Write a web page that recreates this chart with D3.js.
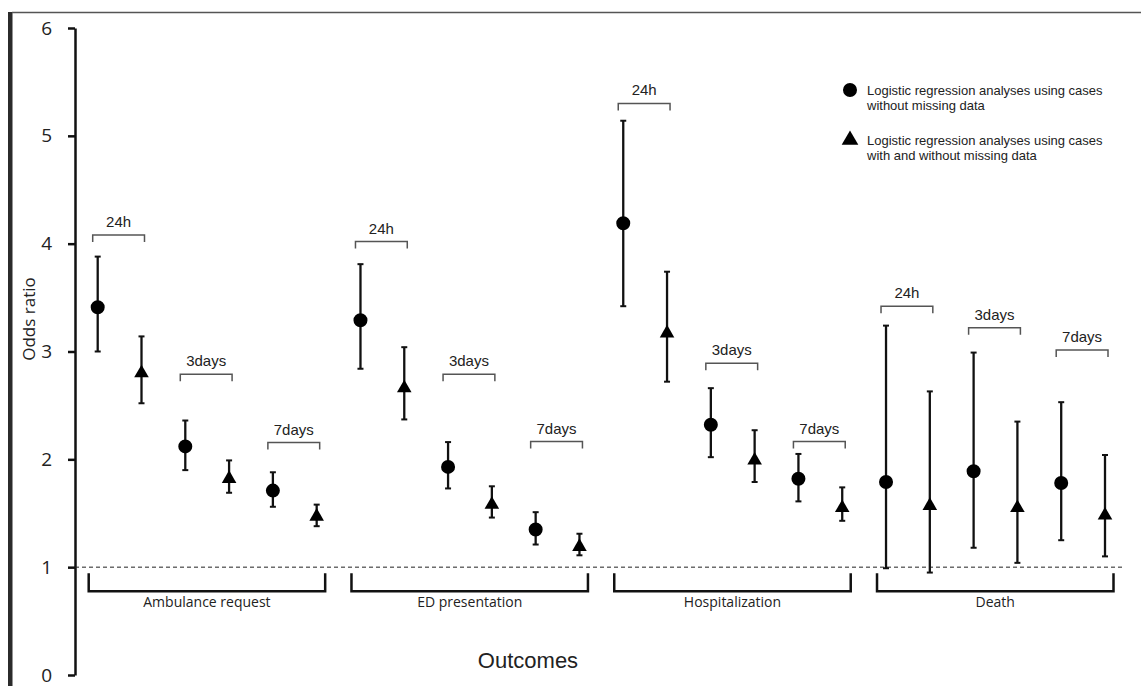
<!DOCTYPE html>
<html>
<head>
<meta charset="utf-8">
<script src="https://cdn.jsdelivr.net/npm/d3@7"></script>
<style>
  body { margin: 0; background: #fff; }
</style>
</head>
<body>
<div id="chart"></div>
<script>
// outcome groups and follow-up windows
const outcomes = ["Ambulance request", "ED presentation", "Hospitalization", "Death"];
const windows = ["24h", "3days", "7days"];

// complete cases (circles): odds ratio and 95% CI, rows = outcome, cols = window
const completeOR = [[3.41, 2.12, 1.71], [3.29, 1.93, 1.35], [4.19, 2.32, 1.82], [1.79, 1.89, 1.78]];
const completeLo = [[3.00, 1.90, 1.56], [2.84, 1.73, 1.21], [3.42, 2.02, 1.61], [0.99, 1.18, 1.25]];
const completeHi = [[3.88, 2.36, 1.88], [3.81, 2.16, 1.51], [5.14, 2.66, 2.05], [3.24, 2.99, 2.53]];

// cases with and without missing data (triangles)
const imputedOR = [[2.80, 1.82, 1.47], [2.66, 1.58, 1.19], [3.17, 1.99, 1.55], [1.57, 1.55, 1.48]];
const imputedLo = [[2.52, 1.69, 1.38], [2.37, 1.46, 1.11], [2.72, 1.79, 1.43], [0.95, 1.04, 1.10]];
const imputedHi = [[3.14, 1.99, 1.58], [3.04, 1.75, 1.31], [3.74, 2.27, 1.74], [2.63, 2.35, 2.04]];

// odds-ratio level where each window bracket sits
const bracketLevel = [[4.08, 2.79, 2.155], [4.02, 2.79, 2.165], [5.30, 2.89, 2.165], [3.42, 3.22, 3.015]];

const yTicks = [0, 1, 2, 3, 4, 5, 6];
const legendLabels = [
    ["Logistic regression analyses using cases", "without missing data"],
    ["Logistic regression analyses using cases", "with and without missing data"]
];

function drawChart() {
    let width = 1141;
    let height = 686;

    let svg = d3.select("#chart")
        .append("svg")
        .attr("width", width)
        .attr("height", height);

    // frame: thick left bar and thin top line
    svg.append("rect")
        .attr("x", 8).attr("y", 12)
        .attr("width", 4.5).attr("height", height - 12)
        .attr("fill", "#2b2b2b");
    svg.append("line")
        .attr("x1", 12).attr("x2", width)
        .attr("y1", 12.5).attr("y2", 12.5)
        .attr("stroke", "#555").attr("stroke-width", 1.5);

    // flatten into one row per marker
    let rows = [];
    outcomes.forEach(function(o, i) {
        windows.forEach(function(w, j) {
            rows.push({outcome: o, win: w, kind: "complete", or: completeOR[i][j], lo: completeLo[i][j], hi: completeHi[i][j]});
            rows.push({outcome: o, win: w, kind: "imputed", or: imputedOR[i][j], lo: imputedLo[i][j], hi: imputedHi[i][j]});
        });
    });
    let key = d => d.outcome + "|" + d.win + "|" + d.kind;

    let x = d3.scalePoint()
        .domain(rows.map(key))
        .range([97.7, 1105]);

    let y = d3.scaleLinear()
        .domain([0, 6])
        .range([675, 28]);

    // y axis
    let axis = svg.append("g")
        .attr("transform", "translate(75,0)")
        .call(d3.axisLeft(y).tickValues(yTicks).tickSize(7).tickSizeOuter(0).tickPadding(16).tickFormat(d3.format("d")));
    axis.select(".domain").attr("stroke", "#111").attr("stroke-width", 2.5);
    axis.selectAll(".tick line").attr("stroke", "#111").attr("stroke-width", 2.5);
    axis.selectAll(".tick text")
        .style("font-family", "'Open Sans', sans-serif")
        .style("font-size", "19px")
        .attr("fill", "#222");

    svg.append("text")
        .attr("transform", "translate(35," + 319 + ") rotate(-90)")
        .attr("text-anchor", "middle")
        .style("font-family", "'Open Sans', sans-serif")
        .style("font-size", "17px")
        .attr("fill", "#222")
        .text("Odds ratio");

    // reference line at OR = 1
    svg.append("line")
        .attr("x1", 75).attr("x2", 1122)
        .attr("y1", y(1)).attr("y2", y(1))
        .attr("stroke", "#222").attr("stroke-width", 1)
        .attr("stroke-dasharray", "4,3");

    // outcome brackets under the dashed line
    outcomes.forEach(function(o) {
        let sub = rows.filter(d => d.outcome === o);
        let x1 = x(key(sub[0])) - 9;
        let x2 = x(key(sub[sub.length - 1])) + 8.5;
        let yTop = y(1) + 6;
        let yBot = y(1) + 24;
        svg.append("path")
            .attr("d", "M" + x1 + "," + yTop + "V" + yBot + "H" + x2 + "V" + yTop)
            .attr("fill", "none")
            .attr("stroke", "#111")
            .attr("stroke-width", 2.5);
        svg.append("text")
            .attr("x", (x1 + x2) / 2)
            .attr("y", y(1) + 40)
            .attr("text-anchor", "middle")
            .style("font-family", "'Open Sans', sans-serif")
            .style("font-size", "14px")
            .attr("fill", "#222")
            .text(o);
    });

    // window brackets above each pair
    outcomes.forEach(function(o, i) {
        windows.forEach(function(w, j) {
            let x1 = x(o + "|" + w + "|complete") - 5;
            let x2 = x(o + "|" + w + "|imputed") + 3;
            let yb = y(bracketLevel[i][j]);
            svg.append("path")
                .attr("d", "M" + x1 + "," + (yb + 7) + "V" + yb + "H" + x2 + "V" + (yb + 7))
                .attr("fill", "none")
                .attr("stroke", "#555")
                .attr("stroke-width", 1.5);
            svg.append("text")
                .attr("x", (x1 + x2) / 2)
                .attr("y", yb - 8)
                .attr("text-anchor", "middle")
                .style("font-family", "'Liberation Sans', Arial, sans-serif")
                .style("font-size", "15px")
                .attr("fill", "#222")
                .text(w);
        });
    });

    // error bars
    let bars = svg.selectAll(".bar")
        .data(rows).enter()
        .append("g")
        .attr("class", "bar");
    bars.append("line")
        .attr("x1", d => x(key(d))).attr("x2", d => x(key(d)))
        .attr("y1", d => y(d.lo)).attr("y2", d => y(d.hi))
        .attr("stroke", "#111").attr("stroke-width", 2.3);
    bars.append("line")
        .attr("x1", d => x(key(d)) - 3).attr("x2", d => x(key(d)) + 3)
        .attr("y1", d => y(d.hi)).attr("y2", d => y(d.hi))
        .attr("stroke", "#111").attr("stroke-width", 2);
    bars.append("line")
        .attr("x1", d => x(key(d)) - 3).attr("x2", d => x(key(d)) + 3)
        .attr("y1", d => y(d.lo)).attr("y2", d => y(d.lo))
        .attr("stroke", "#111").attr("stroke-width", 2);

    let circle = d3.symbol().type(d3.symbolCircle).size(154);
    let triangle = d3.symbol().type(d3.symbolTriangle).size(92);

    bars.append("path")
        .attr("transform", d => "translate(" + x(key(d)) + "," + y(d.or) + ")")
        .attr("d", d => d.kind === "complete" ? circle() : triangle())
        .attr("fill", "#000");

    // legend
    let legend = svg.append("g");
    legendLabels.forEach(function(lines, i) {
        let gy = 90 + i * 50;
        legend.append("path")
            .attr("transform", "translate(850," + gy + ")")
            .attr("d", i === 0 ? circle() : d3.symbol().type(d3.symbolTriangle).size(120)())
            .attr("fill", "#000");
        lines.forEach(function(t, k) {
            legend.append("text")
                .attr("x", 867)
                .attr("y", gy + 4.5 + k * 15)
                .style("font-family", "'Liberation Sans', Arial, sans-serif")
                .style("font-size", "13px")
                .attr("fill", "#222")
                .text(t);
        });
    });

    svg.append("text")
        .attr("x", 528)
        .attr("y", 668)
        .attr("text-anchor", "middle")
        .style("font-family", "'Liberation Sans', Arial, sans-serif")
        .style("font-size", "22px")
        .attr("fill", "#222")
        .text("Outcomes");
}

window.onload = () => {
    drawChart();
}
</script>
</body>
</html>
